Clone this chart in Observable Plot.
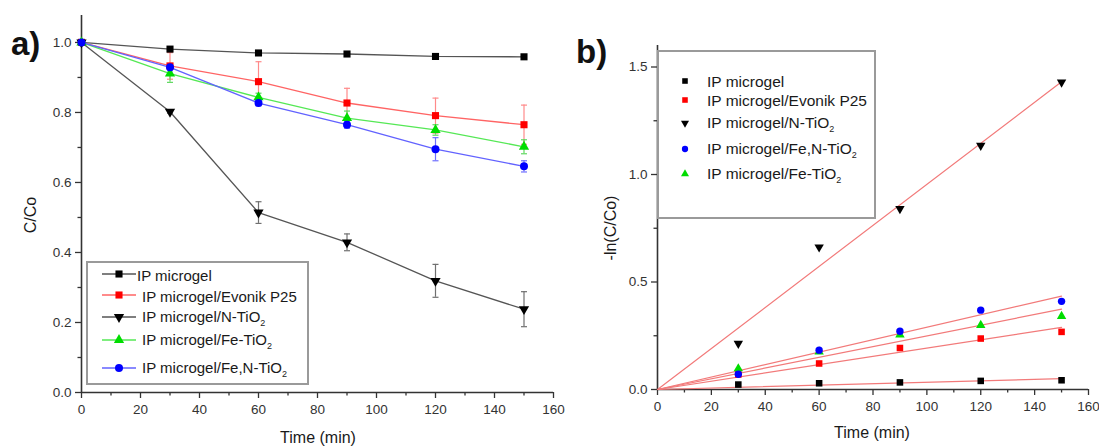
<!DOCTYPE html>
<html>
<head>
<meta charset="utf-8">
<script src="https://cdn.jsdelivr.net/npm/d3@7"></script>
<script src="https://cdn.jsdelivr.net/npm/@observablehq/plot@0.6"></script>
<style>
  body { margin: 0; background: #fff; font-family: "Liberation Sans", Arial, sans-serif; }
  #wrap { position: relative; width: 1099px; height: 448px; overflow: hidden; background: #fff; }
  .panel { position: absolute; top: 0; }
  .lbl { position: absolute; white-space: nowrap; color: #1a1a1a; font-size: 16px; transform: translate(-50%, -50%); }
  .rot { transform: translate(-50%, -50%) rotate(-90deg); }
  .tag { position: absolute; font-weight: bold; font-size: 33px; color: #111; line-height: 1; }
  .legend { position: absolute; border: 2px solid #9a9a9a; box-sizing: border-box; background: #fff; }
  .row { position: absolute; white-space: nowrap; font-size: 15px; color: #1a1a1a; transform: translateY(-50%); line-height: 1; }
  .rowb { font-size: 15.5px; }
  .row sub { font-size: 9px; vertical-align: -4px; }
  .sw { position: absolute; overflow: visible; }
</style>
</head>
<body>
<div id="wrap"></div>
<script>
// ---------------- data ----------------
const times = [0, 30, 60, 90, 120, 150];
const timesB = [30, 60, 90, 120, 150];
const seriesNames = ["IP microgel", "IP microgel/Evonik P25", "IP microgel/N-TiO2", "IP microgel/Fe-TiO2", "IP microgel/Fe,N-TiO2"];

// panel a: C/Co
const cMicrogel = [1.0, 0.981, 0.970, 0.967, 0.960, 0.959];
const cEvonik   = [1.0, 0.933, 0.888, 0.827, 0.791, 0.765];
const cNTiO2    = [1.0, 0.802, 0.514, 0.429, 0.319, 0.238];
const cFeTiO2   = [1.0, 0.911, 0.843, 0.784, 0.750, 0.702];
const cFeNTiO2  = [1.0, 0.929, 0.827, 0.765, 0.695, 0.646];
// error bars (±)
const eMicrogel = [0, 0, 0, 0, 0, 0];
const eEvonik   = [0, 0.038, 0.057, 0.042, 0.050, 0.056];
const eNTiO2    = [0, 0.004, 0.031, 0.024, 0.047, 0.050];
const eFeTiO2   = [0, 0.025, 0.012, 0.020, 0.015, 0.020];
const eFeNTiO2  = [0, 0.010, 0.008, 0.010, 0.033, 0.016];

// panel b: -ln(C/Co)
const lMicrogel = [0.023, 0.029, 0.033, 0.040, 0.043];
const lEvonik   = [0.070, 0.121, 0.193, 0.237, 0.268];
const lNTiO2    = [0.214, 0.662, 0.841, 1.135, 1.429];
const lFeTiO2   = [0.097, 0.175, 0.255, 0.299, 0.341];
const lFeNTiO2  = [0.071, 0.183, 0.271, 0.369, 0.410];

const xTicks = [0, 20, 40, 60, 80, 100, 120, 140, 160];
const xMinor = [10, 30, 50, 70, 90, 110, 130, 150];
const yTicksA = [0, 0.2, 0.4, 0.6, 0.8, 1.0];
const yMinorA = [0.1, 0.3, 0.5, 0.7, 0.9];
const yTicksB = [0, 0.5, 1.0, 1.5];
const yMinorB = [0.25, 0.75, 1.25];

const legendOrderB = [0, 1, 2, 4, 3];

// ---------------- styles ----------------
const sqrt3 = Math.sqrt(3);
const triangleDown = { draw(ctx, size) { const y = Math.sqrt(size / (sqrt3 * 3)); ctx.moveTo(0, 2 * y); ctx.lineTo(-sqrt3 * y, -y); ctx.lineTo(sqrt3 * y, -y); ctx.closePath(); } };
const capSym = { draw(ctx, size) { const w = Math.sqrt(size); ctx.moveTo(-w, 0); ctx.lineTo(w, 0); } };

const markerFill = ["#000000", "#ff0000", "#000000", "#00dd00", "#0000ff"];
const lineColor  = ["#555555", "#ff6464", "#555555", "#55e855", "#6262ff"];
const errColor   = ["#777777", "#ff8a8a", "#707070", "#5fd85f", "#6f6fff"];
const symbols    = ["square", "square", triangleDown, "triangle", "circle"];
const rA         = [4, 4, 3.8, 3.8, 4];
const rB         = [3.7, 3.7, 3.5, 3.5, 3.7];
const fitColor = "#f27a7a";

const seriesA = [cMicrogel, cEvonik, cNTiO2, cFeTiO2, cFeNTiO2];
const errA = [eMicrogel, eEvonik, eNTiO2, eFeTiO2, eFeNTiO2];
const seriesB = [lMicrogel, lEvonik, lNTiO2, lFeTiO2, lFeNTiO2];

const wrap = document.getElementById("wrap");
const axisStyle = { fontFamily: "'Liberation Sans', Arial, sans-serif", fontSize: "13.5px", color: "#333", background: "transparent", overflow: "visible" };

function axes(yTicks, yMinor, fmtY) {
  return [
    Plot.axisX(xTicks, { tickSize: 6, tickPadding: 6, stroke: "#333", strokeWidth: 1.3, fill: "#333", label: null, tickFormat: d => String(d) }),
    Plot.axisX(xMinor, { tickSize: 3.5, stroke: "#333", strokeWidth: 1.3, label: null, tickFormat: () => "" }),
    Plot.axisY(yTicks, { tickSize: 6, tickPadding: 4, stroke: "#333", strokeWidth: 1.3, fill: "#333", label: null, tickFormat: fmtY }),
    Plot.axisY(yMinor, { tickSize: 3.5, stroke: "#333", strokeWidth: 1.3, label: null, tickFormat: () => "" }),
    Plot.ruleX([0], { stroke: "#333", strokeWidth: 1.6 }),
    Plot.ruleY([0], { stroke: "#333", strokeWidth: 1.6 })
  ];
}

// ---------------- panel a ----------------
const marksA = [];
seriesNames.forEach((name, i) => {
  const rows = times.map((t, j) => ({ t, c: seriesA[i][j], e: errA[i][j] }));
  const er = rows.filter(d => d.e > 0);
  marksA.push(Plot.line(rows, { x: "t", y: "c", stroke: lineColor[i], strokeWidth: 1.3 }));
  marksA.push(Plot.ruleX(er, { x: "t", y1: d => d.c - d.e, y2: d => d.c + d.e, stroke: errColor[i], strokeWidth: 1.2 }));
  marksA.push(Plot.dot(er, { x: "t", y: d => d.c + d.e, symbol: capSym, r: 1.7, stroke: errColor[i], strokeWidth: 1.2, fill: "none" }));
  marksA.push(Plot.dot(er, { x: "t", y: d => d.c - d.e, symbol: capSym, r: 1.7, stroke: errColor[i], strokeWidth: 1.2, fill: "none" }));
});
seriesNames.forEach((name, i) => {
  const rows = times.map((t, j) => ({ t, c: seriesA[i][j] }));
  marksA.push(Plot.dot(rows, { x: "t", y: "c", symbol: symbols[i], r: rA[i], fill: markerFill[i], stroke: "none" }));
});

const plotA = Plot.plot({
  width: 560, height: 448,
  marginLeft: 81, marginRight: 7, marginTop: 15, marginBottom: 56,
  x: { domain: [0, 160] },
  y: { domain: [0, 1.077] },
  style: axisStyle,
  marks: [...axes(yTicksA, yMinorA, d => d.toFixed(1)), ...marksA]
});
plotA.classList.add("panel");
plotA.style.left = "0px";
wrap.appendChild(plotA);

// ---------------- panel b ----------------
const marksB = [];
seriesNames.forEach((name, i) => {
  const ys = seriesB[i];
  const slope = d3.sum(timesB, (t, j) => t * ys[j]) / d3.sum(timesB, t => t * t);
  const ends = [times[0], times[times.length - 1]].map(t => ({ t, v: slope * t }));
  marksB.push(Plot.line(ends, { x: "t", y: "v", stroke: fitColor, strokeWidth: 1.2 }));
});
seriesNames.forEach((name, i) => {
  const rows = timesB.map((t, j) => ({ t, v: seriesB[i][j] }));
  marksB.push(Plot.dot(rows, { x: "t", y: "v", symbol: symbols[i], r: rB[i], fill: markerFill[i], stroke: "none" }));
});

const plotB = Plot.plot({
  width: 539, height: 448,
  marginLeft: 97, marginRight: 11, marginTop: 45, marginBottom: 59,
  x: { domain: [0, 160] },
  y: { domain: [0, 1.6] },
  style: axisStyle,
  marks: [...axes(yTicksB, yMinorB, d => d.toFixed(1)), ...marksB]
});
plotB.classList.add("panel");
plotB.style.left = "560px";
wrap.appendChild(plotB);

// ---------------- text labels ----------------
function addDiv(cls, html, x, y) {
  const d = document.createElement("div");
  d.className = cls; d.innerHTML = html;
  d.style.left = x + "px"; d.style.top = y + "px";
  wrap.appendChild(d); return d;
}
addDiv("lbl", "Time (min)", 318, 438);
addDiv("lbl", "Time (min)", 872, 433);
addDiv("lbl rot", "C/Co", 31, 215);
addDiv("lbl rot", "-ln(C/Co)", 611, 228);
addDiv("tag", "a)", 11, 27);
addDiv("tag", "b)", 576, 35);

// ---------------- legends ----------------
const fmtName = s => s.replace("TiO2", "TiO<sub>2</sub>");
function symbolSvg(i, r, withLine, lineLen) {
  const w = withLine ? lineLen : 12, h = 14;
  const ns = "http://www.w3.org/2000/svg";
  const svg = document.createElementNS(ns, "svg");
  svg.setAttribute("width", w); svg.setAttribute("height", h);
  svg.setAttribute("class", "sw");
  if (withLine) {
    const ln = document.createElementNS(ns, "line");
    ln.setAttribute("x1", 0); ln.setAttribute("x2", w); ln.setAttribute("y1", h / 2); ln.setAttribute("y2", h / 2);
    ln.setAttribute("stroke", lineColor[i]); ln.setAttribute("stroke-width", 1.3);
    svg.appendChild(ln);
  }
  const p = document.createElementNS(ns, "path");
  const type = typeof symbols[i] === "string" ? { square: d3.symbolSquare, triangle: d3.symbolTriangle, circle: d3.symbolCircle }[symbols[i]] : symbols[i];
  p.setAttribute("d", d3.symbol(type, r * r * Math.PI)());
  p.setAttribute("transform", `translate(${w / 2},${h / 2})`);
  p.setAttribute("fill", markerFill[i]);
  svg.appendChild(p);
  return svg;
}

// legend a
const legA = document.createElement("div");
legA.className = "legend";
Object.assign(legA.style, { left: "86px", top: "261px", width: "223px", height: "124px" });
wrap.appendChild(legA);
const rowYA = [272, 293, 315, 338, 366];
seriesNames.forEach((name, i) => {
  const sw = symbolSvg(i, rA[i], true, 34);
  sw.style.left = (100 - 86) + "px"; sw.style.top = (rowYA[i] - 261 - 7) + "px";
  legA.appendChild(sw);
  const t = document.createElement("div");
  t.className = "row"; t.innerHTML = fmtName(name);
  t.style.left = ((i === 0 ? 135 : 140) - 86) + "px"; t.style.top = (rowYA[i] - 261 + 1) + "px";
  legA.appendChild(t);
});

// legend b
const legB = document.createElement("div");
legB.className = "legend";
Object.assign(legB.style, { left: "657px", top: "50px", width: "219px", height: "169px" });
wrap.appendChild(legB);
const rowYB = [79, 98, 120.5, 146.5, 172];
legendOrderB.forEach((i, k) => {
  const sw = symbolSvg(i, rB[i] * 0.85, false);
  sw.style.left = (683 - 6 - 657) + "px"; sw.style.top = (rowYB[k] - 50 - 7) + "px";
  legB.appendChild(sw);
  const t = document.createElement("div");
  t.className = "row rowb"; t.innerHTML = fmtName(seriesNames[i]);
  t.style.left = (705 - 657) + "px"; t.style.top = (rowYB[k] - 50 + 1) + "px";
  legB.appendChild(t);
});
</script>
</body>
</html>
